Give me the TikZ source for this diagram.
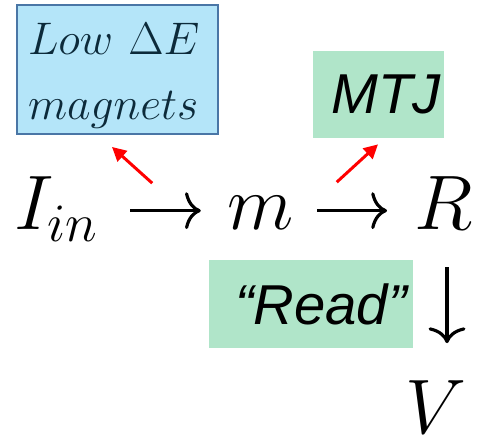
\RequirePackage{fix-cm}
\documentclass[tikz,border=0pt]{standalone}
\usepackage{fontspec}
\newfontfamily\arialfont{Liberation Sans}
\usepackage{tikz}
\usetikzlibrary{arrows.meta,positioning,calc}
\usepackage{xcolor}
\definecolor{skyfill}{RGB}{180,229,249}
\definecolor{skyline}{RGB}{74,118,166}
\definecolor{mintfill}{RGB}{176,229,201}
\definecolor{inkteal}{RGB}{12,42,58}

\begin{document}
\begin{tikzpicture}[
      eq/.style={font=\fontsize{44}{50}\selectfont,inner sep=0pt,
                 text height=33pt,text depth=11pt,anchor=base},
      eqarr/.style={-{Computer Modern Rightarrow[length=9pt,width=21pt]},line width=1.8pt},
      hint/.style={-{Triangle[length=8pt,width=8pt]},red,line width=1.7pt},
      skybox/.style={draw=skyline,line width=1.1pt,fill=skyfill,
                     minimum height=2.58cm,inner ysep=0pt,inner xsep=0.22cm,
                     text width=3.58cm,
                     text=inkteal,font=\fontsize{26}{37.5}\selectfont,align=left},
      mintbox/.style={fill=mintfill,inner sep=0pt,
                      font=\arialfont\itshape\fontsize{32}{38}\selectfont},
    ]
    \useasboundingbox (0,0) rectangle (9.62,8.76);
    % main chain
    \node[eq] (iin) at (1.13,4.16) {$I_{in}$};
    \node[eq] (m) at (5.22,4.16) {$m$};
    \node[eq] (r) at (8.87,4.16) {$R$};
    \node[eq,text depth=0pt] (v) at (8.71,0.08) {$V$};

    \draw[eqarr,shorten <=0.63cm,shorten >=0.535cm] (iin) -- (m);
    \draw[eqarr,shorten <=0.455cm,shorten >=0.54cm] (m) -- (r);
    \draw[eqarr,shorten <=0.35cm,shorten >=0.65cm]
      ([xshift=0.07cm]r.south) -- ([xshift=0.07cm]r.south |- v.north);

    % annotation boxes
    \node[skybox] (lowE) at (2.35,7.37) {\rule{0pt}{25pt}$Low\ \Delta E$\\$magnets$};
    \node[mintbox,minimum width=2.62cm,minimum height=1.74cm] (mtj) at (7.57,6.87)
      {\hspace*{0.3cm}MTJ};
    \node[mintbox,minimum width=4.08cm,minimum height=1.76cm] (read) at (6.22,2.68)
      {\hspace*{0.4cm}“Read”};

    % pointers
    \draw[hint] ($($(iin.east)!0.5!(m.west)$)+(-0.22,0.55)$)
      -- ([xshift=-0.11cm,yshift=-0.24cm]lowE.south);
    \draw[hint] ($($(m.east)!0.5!(r.west)$)+(-0.35,0.57)$)
      -- ([xshift=-0.01cm,yshift=-0.12cm]mtj.south);
  \end{tikzpicture}
\end{document}
